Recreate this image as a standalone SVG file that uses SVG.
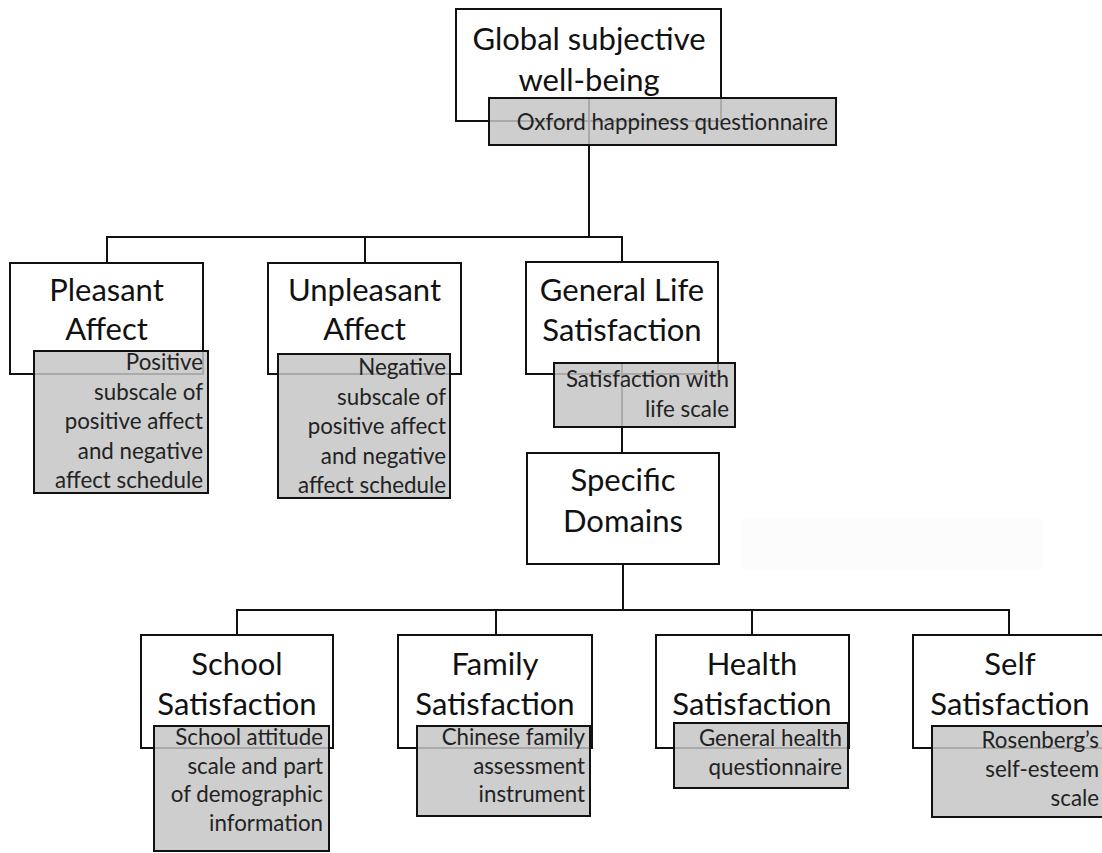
<svg xmlns="http://www.w3.org/2000/svg" width="1102" height="853" viewBox="0 0 1102 853">
<style>
.node{fill:#fff;stroke:#111;stroke-width:2}
.tool{fill:#c6c6c6;fill-opacity:0.85;stroke:#111;stroke-width:2}
.lbl{font-family:Lato,"Liberation Sans",sans-serif;font-size:31px;fill:#111;text-anchor:middle}
.sub{font-family:Lato,"Liberation Sans",sans-serif;font-size:22.3px;fill:#222;text-anchor:end}
.conn{fill:none;stroke:#111;stroke-width:2}
</style>
<rect x="741" y="518" width="301" height="51" fill="#fcfcfc"/>
<g id="n-global"><rect class="node" x="456" y="9" width="265" height="112"/>
<text class="lbl" x="589" y="50">Global subjective</text><text class="lbl" x="589" y="91">well-being</text></g>
<g id="n-pleasant"><rect class="node" x="10" y="263" width="193" height="111"/>
<text class="lbl" x="106.5" y="301">Pleasant</text><text class="lbl" x="106.5" y="340">Affect</text></g>
<g id="n-unpleasant"><rect class="node" x="268" y="263" width="193" height="111"/>
<text class="lbl" x="364.5" y="301">Unpleasant</text><text class="lbl" x="364.5" y="340">Affect</text></g>
<g id="n-general"><rect class="node" x="526" y="262" width="192" height="112"/>
<text class="lbl" x="622" y="301">General Life</text><text class="lbl" x="622" y="341">Satisfaction</text></g>
<g id="n-specific"><rect class="node" x="527" y="453" width="192" height="111"/>
<text class="lbl" x="623" y="491">Specific</text><text class="lbl" x="623" y="532">Domains</text></g>
<g id="n-school"><rect class="node" x="141" y="635" width="192" height="113"/>
<text class="lbl" x="237" y="675">School</text><text class="lbl" x="237" y="715">Satisfaction</text></g>
<g id="n-family"><rect class="node" x="398" y="635" width="194" height="113"/>
<text class="lbl" x="495" y="675">Family</text><text class="lbl" x="495" y="715">Satisfaction</text></g>
<g id="n-health"><rect class="node" x="656" y="635" width="193" height="113"/>
<text class="lbl" x="752" y="675">Health</text><text class="lbl" x="752" y="715">Satisfaction</text></g>
<g id="n-self"><rect class="node" x="913" y="635" width="194" height="113"/>
<text class="lbl" x="1010" y="675">Self</text><text class="lbl" x="1010" y="715">Satisfaction</text></g>
<g id="connectors">
<path class="conn" d="M589,98 V237 M107,263 V237 H622 V262 M365,237 V263"/>
<path class="conn" d="M622,363 V453"/>
<path class="conn" d="M623,564 V610 M237,635 V610 H1009 V635 M496,610 V635 M752,610 V635"/>
</g>
<g id="t-global"><rect class="tool" x="489" y="98" width="347" height="47"/>
<text class="sub" x="828" y="130">Oxford happiness questionnaire</text></g>
<g id="t-pleasant"><rect class="tool" x="34" y="351" width="174" height="142"/>
<text class="sub" x="203"><tspan x="203" y="370">Positive</tspan><tspan x="203" y="399.5">subscale of</tspan><tspan x="203" y="429">positive affect</tspan><tspan x="203" y="458.5">and negative</tspan><tspan x="203" y="488">affect schedule</tspan></text></g>
<g id="t-unpleasant"><rect class="tool" x="278" y="354" width="172" height="144"/>
<text class="sub" x="446"><tspan x="446" y="375">Negative</tspan><tspan x="446" y="404.5">subscale of</tspan><tspan x="446" y="434">positive affect</tspan><tspan x="446" y="463.5">and negative</tspan><tspan x="446" y="493">affect schedule</tspan></text></g>
<g id="t-general"><rect class="tool" x="554" y="363" width="181" height="64"/>
<text class="sub" x="729"><tspan x="729" y="387">Satisfaction with</tspan><tspan x="729" y="417">life scale</tspan></text></g>
<g id="t-school"><rect class="tool" x="154" y="726" width="175" height="125"/>
<text class="sub" x="323"><tspan x="323" y="745">School attitude</tspan><tspan x="323" y="773.5">scale and part</tspan><tspan x="323" y="802">of demographic</tspan><tspan x="323" y="830.5">information</tspan></text></g>
<g id="t-family"><rect class="tool" x="417" y="726" width="173" height="90"/>
<text class="sub" x="585"><tspan x="585" y="745">Chinese family</tspan><tspan x="585" y="773.5">assessment</tspan><tspan x="585" y="802">instrument</tspan></text></g>
<g id="t-health"><rect class="tool" x="674" y="723" width="174" height="65"/>
<text class="sub" x="842"><tspan x="842" y="746">General health</tspan><tspan x="842" y="775">questionnaire</tspan></text></g>
<g id="t-self"><rect class="tool" x="932" y="726" width="175" height="91"/>
<text class="sub" x="1099"><tspan x="1099" y="748">Rosenberg’s</tspan><tspan x="1099" y="777">self-esteem</tspan><tspan x="1099" y="806">scale</tspan></text></g>
</svg>
